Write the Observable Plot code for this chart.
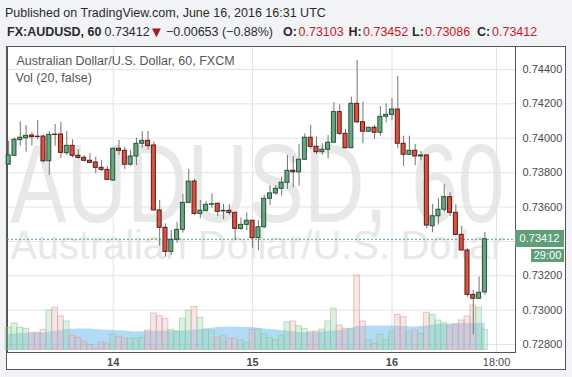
<!DOCTYPE html>
<html>
<head>
<meta charset="utf-8">
<script src="https://cdn.jsdelivr.net/npm/d3@7"></script>
<script src="https://cdn.jsdelivr.net/npm/@observablehq/plot@0.6"></script>
<style>
  html, body { margin:0; padding:0; }
  body { width:572px; height:377px; background:#f1f3f6; position:relative; overflow:hidden;
         font-family:"Liberation Sans", Arial, sans-serif; color:#2b2b2b; }
  .h { position:absolute; white-space:nowrap; font-size:12.5px; line-height:15px; }
  .b { font-weight:bold; }
  .r { color:#c8181e; }
  #frame { position:absolute; left:6px; top:46px; width:558px; height:322px; background:#fff; border:1px solid #555; }
  .layer { position:absolute; left:0; top:46px; width:572px; height:331px; }
  .tag { position:absolute; background:#5f9f78; color:#fff; font-size:11px; text-align:center; white-space:nowrap; }
</style>
</head>
<body>
<div id="frame"></div>
<div id="l1" class="layer"></div>
<div id="l2" class="layer"></div>
<div id="l3" class="layer"></div>
<div id="hdr"></div>
<script>
// ---------- data ----------
const firstCandle = "2016-06-13T06:00:00Z";   // hourly candles, FX:AUDUSD 60
const open = [0.73846,0.73898,0.73989,0.74000,0.74016,0.74009,0.74010,0.73866,0.74021,0.74022,
  0.73913,0.73956,0.73898,0.73886,0.73869,0.73859,0.73828,0.73816,0.73754,0.73939,
  0.73927,0.73846,0.73894,0.73968,0.73985,0.73958,0.73580,0.73479,0.73339,0.73409,
  0.73467,0.73624,0.73748,0.73560,0.73578,0.73613,0.73619,0.73574,0.73578,0.73566,
  0.73473,0.73496,0.73520,0.73419,0.73482,0.73648,0.73679,0.73706,0.73741,0.73811,
  0.73802,0.73875,0.74003,0.73950,0.73919,0.73933,0.73974,0.74152,0.74026,0.73942,
  0.74200,0.74093,0.74038,0.74061,0.74032,0.74125,0.74136,0.74167,0.73968,0.73904,
  0.73927,0.73894,0.73900,0.73488,0.73546,0.73584,0.73657,0.73566,0.73438,0.73347,
  0.73089,0.73066,0.73103];
const high = [0.73983,0.74003,0.74096,0.74074,0.74032,0.74103,0.74018,0.74038,0.74080,0.74092,
  0.74039,0.73991,0.73933,0.73900,0.73910,0.73890,0.73871,0.73836,0.73942,0.73987,
  0.73948,0.73929,0.74000,0.74038,0.74039,0.73979,0.73638,0.73502,0.73463,0.73512,
  0.73673,0.73818,0.73760,0.73638,0.73632,0.73677,0.73621,0.73615,0.73615,0.73568,
  0.73537,0.73566,0.73522,0.73521,0.73667,0.73725,0.73725,0.73773,0.73900,0.73894,
  0.73964,0.74026,0.74074,0.74008,0.73968,0.74016,0.74206,0.74195,0.74051,0.74239,
  0.74452,0.74210,0.74064,0.74074,0.74185,0.74200,0.74230,0.74359,0.74012,0.74012,
  0.73964,0.73923,0.73902,0.73615,0.73648,0.73729,0.73683,0.73613,0.73487,0.73357,
  0.73114,0.73192,0.73452];
const low = [0.73844,0.73897,0.73954,0.73919,0.73954,0.73991,0.73857,0.73785,0.73954,0.73882,
  0.73901,0.73886,0.73878,0.73862,0.73855,0.73793,0.73805,0.73754,0.73750,0.73900,
  0.73818,0.73837,0.73841,0.73942,0.73930,0.73578,0.73372,0.73308,0.73318,0.73389,
  0.73448,0.73619,0.73551,0.73531,0.73570,0.73593,0.73545,0.73526,0.73551,0.73405,
  0.73463,0.73463,0.73360,0.73347,0.73473,0.73609,0.73667,0.73663,0.73702,0.73712,
  0.73721,0.73871,0.73937,0.73905,0.73900,0.73880,0.73972,0.74016,0.73937,0.73940,
  0.74084,0.73968,0.74035,0.73993,0.74012,0.74090,0.74102,0.73939,0.73837,0.73900,
  0.73841,0.73869,0.73473,0.73450,0.73496,0.73570,0.73545,0.73436,0.73345,0.73075,
  0.72857,0.73062,0.73086];
const close = [0.73900,0.73991,0.74003,0.74014,0.74006,0.74007,0.73866,0.74020,0.74019,0.73915,
  0.73956,0.73898,0.73886,0.73869,0.73857,0.73828,0.73816,0.73758,0.73939,0.73927,
  0.73846,0.73894,0.73968,0.73985,0.73954,0.73580,0.73479,0.73339,0.73409,0.73467,
  0.73624,0.73748,0.73560,0.73578,0.73613,0.73616,0.73572,0.73578,0.73566,0.73473,
  0.73496,0.73520,0.73419,0.73482,0.73648,0.73679,0.73706,0.73741,0.73811,0.73802,
  0.73875,0.74003,0.73950,0.73919,0.73933,0.73974,0.74152,0.74026,0.73942,0.74200,
  0.74093,0.74038,0.74061,0.74032,0.74125,0.74136,0.74167,0.73968,0.73904,0.73927,
  0.73894,0.73900,0.73492,0.73546,0.73584,0.73657,0.73566,0.73438,0.73347,0.73089,
  0.73066,0.73101,0.73412];
const volume = [2220,2650,2220,2120,1720,1720,2020,3950,4220,3350,
  2850,1450,1220,850,520,120,750,650,1520,1320,
  1120,1120,1120,1200,1950,3650,3380,3130,2020,1850,
  3130,3920,4300,3220,2020,1900,1220,1420,1100,1150,
  950,680,2020,2070,1620,1200,980,1430,2770,2850,
  2380,2120,1780,1850,2050,2850,4120,2450,2120,2050,
  7450,2850,950,620,1520,950,1850,3520,3280,1850,
  1950,1620,3720,3520,2950,2680,2350,2550,2950,3350,
  4450,4220,2020];
// Vol MA(20), read every second candle starting with the first
const volMA = [1550,1650,1650,1700,1850,2050,2100,2100,2000,1950,1900,1800,1850,1900,1900,1900,2000,2100,2250,2300,
  2250,2250,2100,2000,1900,1750,1700,1800,1900,2000,2350,2400,2400,2400,2350,2300,2400,2550,2600,2650,2650,2680];
const priceGrid = [0.728,0.730,0.732,0.734,0.736,0.738,0.740,0.742,0.744];
const priceLabels = [0.728,0.730,0.732,0.736,0.738,0.740,0.742,0.744]; // 0.73400 hidden under the last-price tag
const dayTicks = ["2016-06-14T00:00:00Z","2016-06-15T00:00:00Z","2016-06-16T00:00:00Z"];
const hourTicks = ["2016-06-16T18:00:00Z"];
const timeDomain = ["2016-06-13T05:48:00Z","2016-06-16T21:16:00Z"];
const priceDomain = [0.727535, 0.745338];
const volDomain = [0, 30350];
const symbolText = "AUDUSD, 60";
const descText = "Australian Dollar/U.S. Dollar";
const paneTitle = "Australian Dollar/U.S. Dollar, 60, FXCM";
const volTitle = "Vol (20, false)";
const published = "Published on TradingView.com, June 16, 2016 16:31 UTC";
const changeText = "\u22120.00653 (\u22120.88%)";
const countdown = "29:00";

// ---------- build ----------
const HOUR = 3600e3;
const t0 = +new Date(firstCandle);
const candles = open.map((o, i) => ({
  t: new Date(t0 + i * HOUR), open: o, high: high[i], low: low[i], close: close[i],
  volume: volume[i], up: close[i] >= o
}));
const maData = volMA.map((v, i) => ({t: new Date(t0 + 2 * i * HOUR), ma: v}));
const last = candles[candles.length - 1];

const FONT = "Liberation Sans, Arial, sans-serif";
const common = {
  width: 572, height: 331, marginLeft: 7, marginRight: 57, marginTop: 0, marginBottom: 25,
  style: {background: "transparent", overflow: "visible", fontFamily: FONT, fontSize: "11px"},
  x: {type: "utc", domain: timeDomain.map(d => new Date(d)), axis: null},
  color: {type: "identity"}
};

// layer 1: watermark, grid, axes, frame
const p1 = Plot.plot({
  ...common,
  y: {domain: priceDomain, axis: null},
  marks: [
    Plot.text([symbolText], {text: d => d, frameAnchor: "top-left", textAnchor: "start", lineAnchor: "bottom",
      dx: 3, dy: 175, fontSize: 112, fill: "#e8e8e8"}),
    Plot.text([descText], {text: d => d, frameAnchor: "top-left", textAnchor: "start", lineAnchor: "bottom",
      dx: 3, dy: 212, fontSize: 40, fill: "#e8e8e8"}),
    Plot.gridY({ticks: priceGrid, stroke: "#e2e3e5", strokeOpacity: 1}),
    Plot.gridX({ticks: dayTicks.concat(hourTicks).map(d => new Date(d)), stroke: "#e2e3e5", strokeOpacity: 1}),
    Plot.axisY({ticks: priceLabels, anchor: "right", tickSize: 0, tickPadding: 7, label: null,
      tickFormat: d => d.toFixed(5), fontSize: 11, fill: "#4a4a4a"}),
    Plot.axisX({ticks: dayTicks.map(d => new Date(d)), anchor: "bottom", tickSize: 0, tickPadding: 6, label: null,
      tickFormat: d => String(d.getUTCDate()), fontSize: 11, fontWeight: "bold", fill: "#4a4a4a"}),
    Plot.axisX({ticks: hourTicks.map(d => new Date(d)), anchor: "bottom", tickSize: 0, tickPadding: 6, label: null,
      tickFormat: d => d3.utcFormat("%H:%M")(d), fontSize: 11, fill: "#4a4a4a"}),
    Plot.frame({stroke: "#555"})
  ]
});
document.getElementById("l1").appendChild(p1);
// squeeze the watermark lines horizontally so they span the pane, as in the reference
d3.select(p1).selectAll("text").each(function () {
  if (this.textContent === symbolText || this.textContent === descText) {
    const w = this.getComputedTextLength();
    const k = 494 / w;
    const tr = this.getAttribute("transform") || "";
    this.setAttribute("transform", tr + ` scale(${k},1)`);
  }
});

// layer 2: volume + MA
const p2 = Plot.plot({
  ...common,
  marginBottom: 27.5,
  y: {domain: volDomain, axis: null},
  marks: [
    Plot.areaY(maData, {x: "t", y: "ma", fill: "#55b0ef", fillOpacity: 0.45}),
    Plot.rectY(candles, {
      x1: d => new Date(+d.t - HOUR / 2), x2: d => new Date(+d.t + HOUR / 2), y: "volume",
      fill: d => d.up ? "#9fd8aa" : "#ebb5b5", fillOpacity: 0.35,
      stroke: d => d.up ? "#8cc79a" : "#d59c9c", strokeOpacity: 0.55
    })
  ]
});
document.getElementById("l2").appendChild(p2);

// layer 3: candles, last price line, pane titles
const p3 = Plot.plot({
  ...common,
  y: {domain: priceDomain, axis: null},
  marks: [
    Plot.text([paneTitle], {text: d => d, frameAnchor: "top-left", textAnchor: "start", lineAnchor: "bottom",
      dx: 9, dy: 18, fontSize: 12.5, fill: "#555"}),
    Plot.text([volTitle], {text: d => d, frameAnchor: "top-left", textAnchor: "start", lineAnchor: "bottom",
      dx: 8, dy: 35.5, fontSize: 12.5, fill: "#555"}),
    Plot.ruleY([last.close], {stroke: "#5aa878", strokeDasharray: "2,2"}),
    Plot.ruleX(candles, {x: "t", y1: "low", y2: "high", stroke: "#737375"}),
    Plot.rect(candles, {
      x1: d => new Date(+d.t - HOUR / 2), x2: d => new Date(+d.t + HOUR / 2),
      y1: "open", y2: "close", insetLeft: 0.9, insetRight: 0.9,
      fill: d => d.up ? "#6ba583" : "#d75442", stroke: d => d.up ? "#225437" : "#5b1a13"
    })
  ]
});
document.getElementById("l3").appendChild(p3);

// last price tag on the price axis, placed with the plot's own y scale
const py = 46 + p3.scale("y").apply(last.close);
const tag1 = document.createElement("div");
tag1.className = "tag";
tag1.style.cssText = `left:515px;width:49px;top:${py - 8.5}px;height:17px;line-height:17px;`;
tag1.textContent = last.close.toFixed(5);
document.body.appendChild(tag1);
const tag2 = document.createElement("div");
tag2.className = "tag";
tag2.style.cssText = `left:531px;width:33px;top:${py + 10.5}px;height:13px;line-height:13px;`;
tag2.textContent = countdown;
document.body.appendChild(tag2);

// header
const f = v => v.toFixed(5);
const parts = [
  [5, 6, published, ""],
  [7, 25, "FX:AUDUSD, 60", "b"],
  [104.5, 25, f(last.close), ""],
  [149, 25, "\u25BC", "tri"],
  [166, 25, changeText, ""],
  [283, 25, "O:", "b"], [298.5, 25, f(last.open), "r"],
  [348.5, 25, "H:", "b"], [363, 25, f(last.high), "r"],
  [412, 25, "L:", "b"], [425, 25, f(last.low), "r"],
  [477, 25, "C:", "b"], [492, 25, f(last.close), "r"]
];
const hdr = document.getElementById("hdr");
for (const [x, y, txt, cls] of parts) {
  const s = document.createElement("div");
  s.className = "h " + (cls === "tri" ? "" : cls);
  s.style.left = x + "px"; s.style.top = y + "px";
  if (cls === "tri") { s.style.color = "#a8171b"; s.style.fontSize = "15px"; s.style.top = (y - 1) + "px"; }
  s.textContent = txt;
  hdr.appendChild(s);
}
</script>
</body>
</html>
